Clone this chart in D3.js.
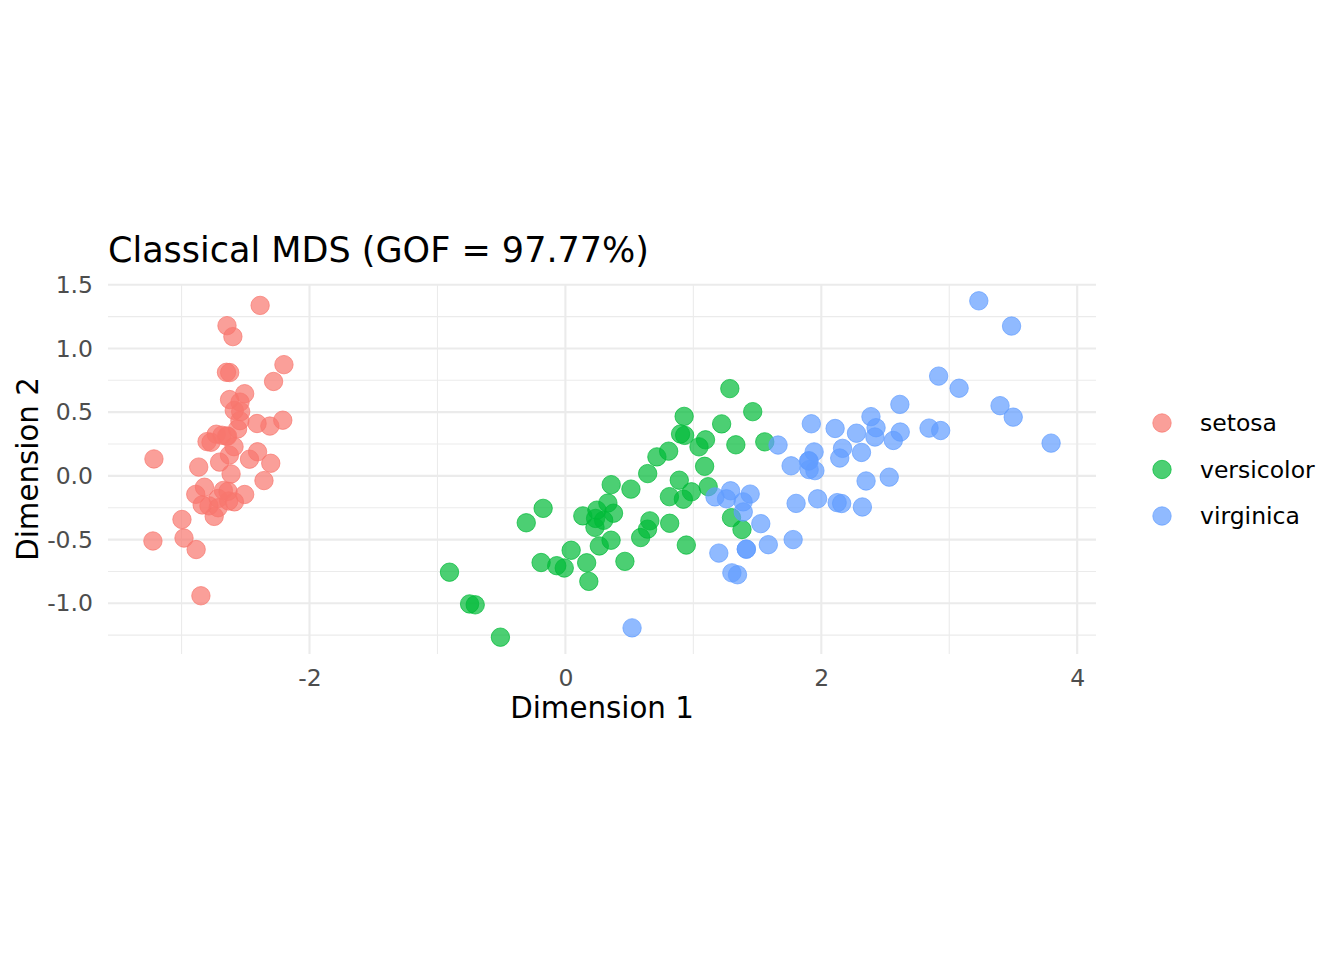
<!DOCTYPE html>
<meta charset="utf-8">
<style>
    body { margin: 0; background: #fff; }
    svg text { font-family: "DejaVu Sans", sans-serif; }
    .tick text { fill: #4D4D4D; font-size: 23.5px; }
    .grid-major { stroke: #EBEBEB; stroke-width: 2.1; }
    .grid-minor { stroke: #EBEBEB; stroke-width: 1.1; }
</style>
<svg id="chart" width="1344" height="960"></svg>
<script src="https://cdn.jsdelivr.net/npm/d3@7"></script>
<script>
    // classical MDS coordinates (Dimension 1, Dimension 2) per species
    var setosaX = [-2.684, -2.714, -2.889, -2.745, -2.729, -2.281, -2.821, -2.626, -2.886, -2.673,
        -2.507, -2.613, -2.786, -3.224, -2.645, -2.386, -2.624, -2.648, -2.200, -2.588,
        -2.310, -2.544, -3.216, -2.303, -2.356, -2.507, -2.469, -2.562, -2.640, -2.632,
        -2.587, -2.410, -2.649, -2.599, -2.637, -2.866, -2.625, -2.801, -2.981, -2.590,
        -2.770, -2.849, -2.997, -2.406, -2.209, -2.714, -2.538, -2.839, -2.543, -2.703];
    var setosaY = [0.319, -0.177, -0.145, -0.318, 0.327, 0.741, -0.089, 0.163, -0.578, -0.114,
        0.645, 0.015, -0.235, -0.511, 1.179, 1.338, 0.811, 0.312, 0.873, 0.514,
        0.391, 0.433, 0.133, 0.099, -0.037, -0.146, 0.131, 0.368, 0.312, -0.197,
        -0.204, 0.411, 0.813, 1.093, -0.121, 0.069, 0.599, 0.269, -0.488, 0.229,
        0.264, -0.941, -0.342, 0.189, 0.437, -0.250, 0.504, -0.228, 0.579, 0.108];

    var versicolorX = [1.285, 0.932, 1.464, 0.183, 1.088, 0.642, 1.095, -0.749, 1.044, -0.009,
        -0.508, 0.512, 0.265, 0.985, -0.174, 0.928, 0.660, 0.236, 0.945, 0.045,
        1.116, 0.358, 1.298, 0.922, 0.715, 0.900, 1.332, 1.558, 0.813, -0.306,
        -0.068, -0.190, 0.136, 1.380, 0.588, 0.807, 1.221, 0.815, 0.246, 0.166,
        0.465, 0.890, 0.231, -0.705, 0.357, 0.332, 0.376, 0.643, -0.906, 0.299];
    var versicolorY = [0.685, 0.318, 0.504, -0.828, 0.075, -0.418, 0.283, -1.005, 0.228, -0.723,
        -1.266, -0.104, -0.550, -0.125, -0.255, 0.467, -0.353, -0.334, -0.543, -0.584,
        -0.085, -0.069, -0.328, -0.183, 0.149, 0.329, 0.244, 0.267, -0.163, -0.368,
        -0.705, -0.680, -0.314, -0.421, -0.484, 0.194, 0.408, -0.372, -0.269, -0.682,
        -0.671, -0.034, -0.404, -1.012, -0.505, -0.213, -0.293, 0.018, -0.756, -0.349];

    var virginicaX = [2.531, 1.414, 2.617, 1.971, 2.350, 3.397, 0.521, 2.933, 2.321, 2.917,
        1.662, 1.803, 2.166, 1.345, 1.586, 1.904, 1.950, 3.487, 3.796, 1.301,
        2.428, 1.199, 3.500, 1.389, 2.275, 2.614, 1.259, 1.291, 2.124, 2.388,
        2.842, 3.231, 2.159, 1.444, 1.780, 3.077, 2.144, 1.905, 1.169, 2.108,
        2.314, 1.922, 1.414, 2.563, 2.419, 1.944, 1.527, 1.764, 1.901, 1.390];
    var virginicaY = [-0.010, -0.575, 0.344, -0.180, -0.040, 0.551, -1.193, 0.356, -0.244, 0.783,
        0.242, -0.216, 0.216, -0.776, -0.540, 0.119, 0.041, 1.176, 0.257, -0.761,
        0.378, -0.606, 0.461, -0.204, 0.335, 0.561, -0.180, -0.117, -0.210, 0.465,
        0.375, 1.374, -0.217, -0.143, -0.500, 0.688, 0.140, 0.049, -0.165, 0.372,
        0.184, 0.409, -0.575, 0.278, 0.305, 0.188, -0.375, 0.079, 0.117, -0.283];

    var species = ["setosa", "versicolor", "virginica"];
    var colors = ["#F8766D", "#00BA38", "#619CFF"];
    var xTicks = [-2, 0, 2, 4];
    var xMinor = [-3, -1, 1, 3];
    var yTicks = [-1.0, -0.5, 0.0, 0.5, 1.0, 1.5];
    var yMinor = [-1.25, -0.75, -0.25, 0.25, 0.75, 1.25];
    var title = "Classical MDS (GOF = 97.77%)";

    function drawChart() {
        var groups = [[setosaX, setosaY], [versicolorX, versicolorY], [virginicaX, virginicaY]];
        var points = [];
        groups.forEach(function (g, k) {
            g[0].forEach(function (v, i) {
                points.push({ x: v, y: g[1][i], s: k });
            });
        });

        var left = 108, right = 1096, top = 284, bottom = 654;

        // ggplot-style 5% expansion of the data range
        var xe = d3.extent(points, function (d) { return d.x; });
        var ye = d3.extent(points, function (d) { return d.y; });
        var xp = (xe[1] - xe[0]) * 0.05, yp = (ye[1] - ye[0]) * 0.05;

        var x = d3.scaleLinear().domain([xe[0] - xp, xe[1] + xp]).range([left, right]);
        var y = d3.scaleLinear().domain([ye[0] - yp, ye[1] + yp]).range([bottom, top]);

        var svg = d3.select("#chart");

        var grid = svg.append("g");
        grid.selectAll(".xmin").data(xMinor).enter().append("line")
            .attr("class", "grid-minor")
            .attr("x1", x).attr("x2", x).attr("y1", top).attr("y2", bottom);
        grid.selectAll(".ymin").data(yMinor).enter().append("line")
            .attr("class", "grid-minor")
            .attr("y1", y).attr("y2", y).attr("x1", left).attr("x2", right);
        grid.selectAll(".xmaj").data(xTicks).enter().append("line")
            .attr("class", "grid-major")
            .attr("x1", x).attr("x2", x).attr("y1", top).attr("y2", bottom);
        grid.selectAll(".ymaj").data(yTicks).enter().append("line")
            .attr("class", "grid-major")
            .attr("y1", y).attr("y2", y).attr("x1", left).attr("x2", right);

        // plain hyphen for negative labels, as in the original
        var xAxis = svg.append("g")
            .attr("transform", "translate(0," + bottom + ")")
            .call(d3.axisBottom(x).tickValues(xTicks).tickSize(0).tickPadding(15)
                .tickFormat(function (d) { return String(d); }));
        xAxis.select(".domain").remove();

        var yAxis = svg.append("g")
            .attr("transform", "translate(" + left + ",0)")
            .call(d3.axisLeft(y).tickValues(yTicks).tickSize(0).tickPadding(15)
                .tickFormat(function (d) { return d.toFixed(1); }));
        yAxis.select(".domain").remove();

        xAxis.attr("font-family", null).attr("font-size", null);
        yAxis.attr("font-family", null).attr("font-size", null);

        svg.append("g").selectAll("circle")
            .data(points)
            .enter().append("circle")
            .attr("cx", function (d) { return x(d.x); })
            .attr("cy", function (d) { return y(d.y); })
            .attr("r", 9.2)
            .attr("fill", function (d) { return colors[d.s]; })
            .attr("fill-opacity", 0.7)
            .attr("stroke", function (d) { return colors[d.s]; })
            .attr("stroke-opacity", 0.7)
            .attr("stroke-width", 1);

        svg.append("text")
            .attr("x", left)
            .attr("y", 262)
            .attr("font-size", 35)
            .attr("fill", "#000")
            .text(title);

        svg.append("text")
            .attr("x", (left + right) / 2)
            .attr("y", 718)
            .attr("text-anchor", "middle")
            .attr("font-size", 29.3)
            .attr("fill", "#000")
            .text("Dimension 1");

        svg.append("text")
            .attr("transform", "translate(38," + (top + bottom) / 2 + ") rotate(-90)")
            .attr("text-anchor", "middle")
            .attr("font-size", 29.3)
            .attr("fill", "#000")
            .text("Dimension 2");

        var legend = svg.append("g").selectAll("g")
            .data(species)
            .enter().append("g")
            .attr("transform", function (d, i) { return "translate(1162," + (423 + i * 46.5) + ")"; });

        legend.append("circle")
            .attr("r", 9.2)
            .attr("fill", function (d, i) { return colors[i]; })
            .attr("fill-opacity", 0.7)
            .attr("stroke", function (d, i) { return colors[i]; })
            .attr("stroke-opacity", 0.7)
            .attr("stroke-width", 1);

        legend.append("text")
            .attr("x", 38)
            .attr("dy", "0.35em")
            .attr("font-size", 23.5)
            .attr("fill", "#000")
            .text(function (d) { return d; });
    }
    drawChart();
</script>
